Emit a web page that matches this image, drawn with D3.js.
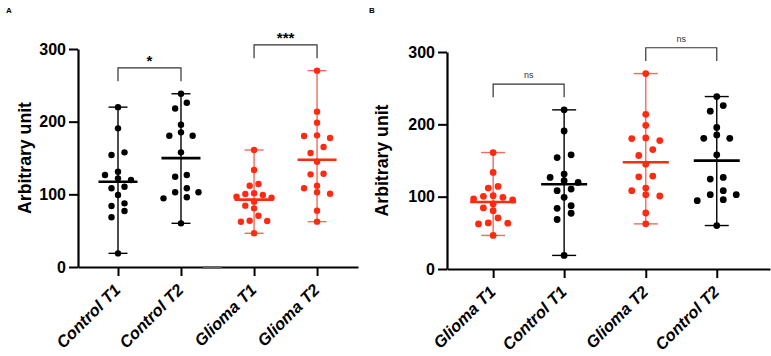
<!DOCTYPE html>
<html><head><meta charset="utf-8">
<script src="https://cdn.jsdelivr.net/npm/d3@7"></script>
<style>body{margin:0;background:#fff} svg{display:block;font-family:"Liberation Sans",Arial,sans-serif}</style>
</head><body><svg id="c" width="771" height="356"></svg>
<script>
// ---- data ----
const controlT1 = [220, 190.8, 157.8, 154.1, 131.2, 126.6, 122.0, 119.7, 110.5, 108.3, 99.1, 87.6, 83.9, 77.1, 68.4, 18.8];
const controlT2 = [238.4, 226, 218.2, 195.7, 185.3, 180.7, 180.7, 157.8, 126.6, 124.3, 108.3, 102.8, 102.8, 95.9, 94.5, 60.1];
const gliomaT1  = [161, 133.5, 114.2, 111.9, 101.4, 100.5, 99.1, 96.8, 95.4, 89.9, 84.4, 80.7, 70.6, 63.7, 63.3, 62.3, 46.4];
const gliomaT2  = [270.2, 213.8, 198.6, 181.2, 180.3, 177.5, 165.1, 156.9, 144.9, 128.4, 127.5, 111.9, 108.3, 102.8, 100.9, 77.5, 62.4];
const categoriesA = ["Control T1", "Control T2", "Glioma T1", "Glioma T2"];
const categoriesB = ["Glioma T1", "Control T1", "Glioma T2", "Control T2"];
const yTicks = [0, 100, 200, 300];
const yLabel = "Arbitrary unit";
const comparisonsA = [["Control T1", "Control T2", "*"], ["Glioma T1", "Glioma T2", "***"]];
const comparisonsB = [["Glioma T1", "Control T1", "ns"], ["Glioma T2", "Control T2", "ns"]];

const groups = {"Control T1": controlT1, "Control T2": controlT2, "Glioma T1": gliomaT1, "Glioma T2": gliomaT2};
const RED = "#ff2a12", RED_LINE = "#f56b5b";
const svg = d3.select("#c");

function swarm(vals, y, d) {
  const pts = vals.map(v => ({v, py: y(v)})).sort((a, b) => a.py - b.py);
  const last = new Map();
  pts.forEach(p => {
    for (let k = 0; ; k++) {
      const cands = k === 0 ? [0] : [-k, k];
      const s = cands.find(c => !last.has(c) || p.py - last.get(c) >= d);
      if (s !== undefined) { p.slot = s; last.set(s, p.py); break; }
    }
  });
  let cl = [pts[0]]; const clusters = [cl];
  for (let i = 1; i < pts.length; i++) {
    if (pts[i].py - pts[i - 1].py < d) cl.push(pts[i]); else { cl = [pts[i]]; clusters.push(cl); }
  }
  clusters.forEach(c => { const e = d3.extent(c, p => p.slot); const sh = (e[0] + e[1]) / 2; c.forEach(p => p.slot -= sh); });
  return pts;
}

function panel(cfg) {
  const g = svg.append("g");
  const pos = i => i + (i >= 2 ? cfg.gap : 0);
  const x = d3.scaleLinear().domain(cfg.xDomain).range(cfg.xRange);
  const y = d3.scaleLinear().domain([0, 300]).range(cfg.yRange);

  g.append("text").attr("x", cfg.letter[1]).attr("y", cfg.letter[2]).text(cfg.letter[0])
    .attr("font-size", 8).attr("font-weight", "bold");

  const ya = g.append("g").attr("transform", `translate(${cfg.xRange[0]},0)`)
    .call(d3.axisLeft(y).tickValues(yTicks).tickSize(9).tickPadding(3).tickSizeOuter(0));
  ya.select(".domain").attr("stroke-width", 2.2);
  ya.selectAll(".tick line").attr("stroke-width", 2);
  ya.selectAll("text").attr("font-size", 16).attr("font-weight", "bold").attr("font-family", "Liberation Sans, Arial, sans-serif");

  g.append("text").attr("transform", `translate(${cfg.titleX},${(cfg.yRange[0] + cfg.yRange[1]) / 2}) rotate(-90)`)
    .attr("text-anchor", "middle").attr("font-size", 19).attr("font-weight", "bold")
    .attr("textLength", 112).attr("lengthAdjust", "spacingAndGlyphs").text(yLabel);

  const xa = g.append("g").attr("transform", `translate(0,${cfg.yRange[0]})`)
    .call(d3.axisBottom(x).tickValues(cfg.cats.map((c, i) => pos(i))).tickFormat((d, i) => cfg.cats[i]).tickSize(9).tickSizeOuter(0));
  xa.select(".domain").attr("stroke-width", 2.2);
  xa.selectAll(".tick line").attr("stroke-width", 2);
  xa.selectAll("text").attr("font-size", 16.5).attr("font-weight", "bold").attr("font-style", "italic")
    .attr("font-family", "Liberation Sans, Arial, sans-serif")
    .attr("text-anchor", "end").attr("dy", null).attr("y", 0).attr("x", 0)
    .attr("transform", "translate(3,24) rotate(-45)");
  if (cfg.gapMark) {
    g.append("line").attr("x1", x(1.35)).attr("x2", x(1.65)).attr("y1", cfg.yRange[0] + 0.5).attr("y2", cfg.yRange[0] + 0.5)
      .attr("stroke", "#666").attr("stroke-width", 3);
  }

  cfg.cats.forEach((cat, i) => {
    const vals = groups[cat];
    const red = cat.startsWith("Glioma");
    const main = red ? RED : "#000", lineC = red ? RED_LINE : "#000";
    const cx = x(pos(i));
    const [mn, mx] = d3.extent(vals);
    const gg = g.append("g");
    gg.append("line").attr("x1", cx).attr("x2", cx).attr("y1", y(mn)).attr("y2", y(mx)).attr("stroke", lineC).attr("stroke-width", 1.4);
    [mn, mx].forEach(v => gg.append("line").attr("x1", cx - cfg.capHalf).attr("x2", cx + cfg.capHalf)
      .attr("y1", y(v)).attr("y2", y(v)).attr("stroke", lineC).attr("stroke-width", 1.4));
    const pts = swarm(vals, y, 6.5);
    const e = d3.extent(pts, p => p.slot); const w = e[1] - e[0];
    const s = w > 0 ? Math.min(cfg.sMax, cfg.W / w) : cfg.sMax;
    gg.selectAll("circle").data(pts).join("circle")
      .attr("cx", p => cx + p.slot * s).attr("cy", p => y(p.v)).attr("r", cfg.r).attr("fill", main);
    const m = d3.mean(vals);
    gg.append("line").attr("x1", cx - cfg.meanHalf).attr("x2", cx + cfg.meanHalf).attr("y1", y(m)).attr("y2", y(m))
      .attr("stroke", main).attr("stroke-width", 2.6);
  });

  cfg.comps.forEach(([a, b, lab]) => {
    const xa1 = x(pos(cfg.cats.indexOf(a))), xb1 = x(pos(cfg.cats.indexOf(b)));
    const top = y(Math.max(d3.max(groups[a]), d3.max(groups[b])));
    const legY = top - 12.5, barY = top - 25.8;
    g.append("path").attr("d", `M${xa1},${legY}V${barY}H${xb1}V${legY}`).attr("fill", "none")
      .attr("stroke", "#333").attr("stroke-width", 1.2);
    const ns = lab === "ns";
    g.append("text").attr("x", (xa1 + xb1) / 2).attr("y", ns ? barY - 6 : barY - 1.5).attr("text-anchor", "middle")
      .attr("font-size", ns ? 9 : 15).attr("font-weight", ns ? "normal" : "bold").attr("fill", ns ? "#333" : "#000").text(lab);
  });
}

panel({cats: categoriesA, comps: comparisonsA, xRange: [78, 358], xDomain: [-0.635, 3.81], yRange: [267, 49], gap: 0.16,
  sMax: 13, W: 35, r: 3.2, meanHalf: 19.5, capHalf: 9.5, titleX: 30.5, letter: ["A", 6, 13], gapMark: true});
panel({cats: categoriesB, comps: comparisonsB, xRange: [447, 770], xDomain: [-0.65, 3.90], yRange: [269, 52], gap: 0.15,
  sMax: 14, W: 39, r: 3.4, meanHalf: 23, capHalf: 12, titleX: 388, letter: ["B", 369, 13], gapMark: false});
</script>
</body></html>
